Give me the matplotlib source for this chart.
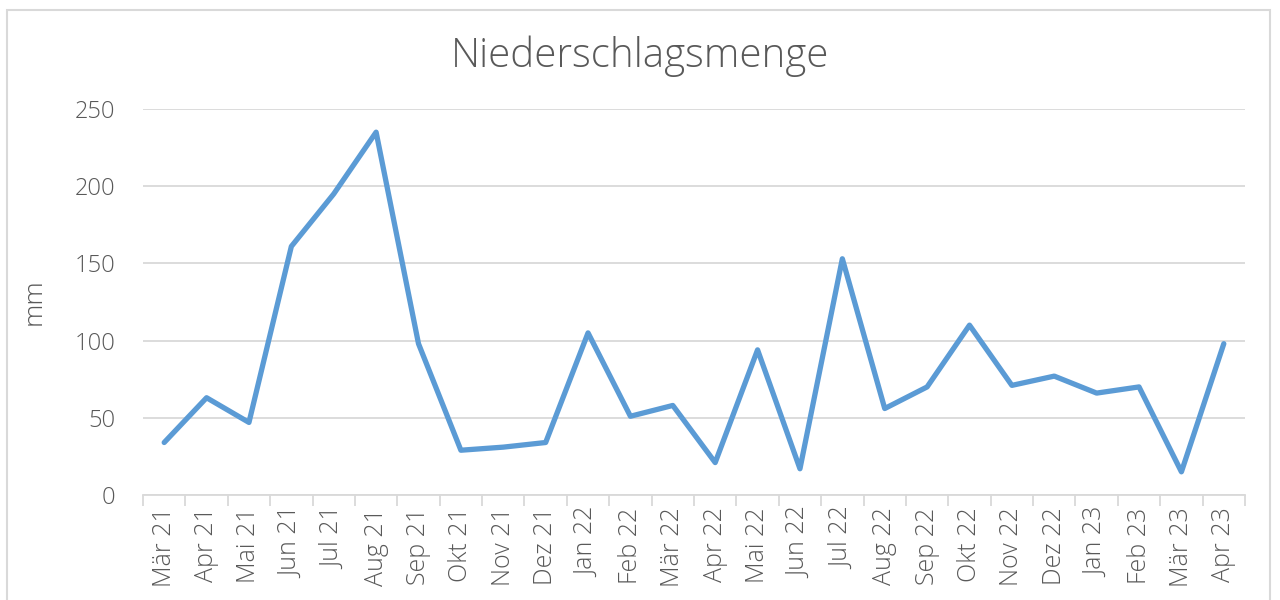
import matplotlib.pyplot as plt
from matplotlib.patches import Rectangle

months = ["Mär 21", "Apr 21", "Mai 21", "Jun 21", "Jul 21", "Aug 21", "Sep 21",
          "Okt 21", "Nov 21", "Dez 21", "Jan 22", "Feb 22", "Mär 22", "Apr 22",
          "Mai 22", "Jun 22", "Jul 22", "Aug 22", "Sep 22", "Okt 22", "Nov 22",
          "Dez 22", "Jan 23", "Feb 23", "Mär 23", "Apr 23"]
niederschlag = [34, 63, 47, 161, 195, 235, 98, 29, 31, 34, 105, 51, 58, 21,
                94, 17, 153, 56, 70, 110, 71, 77, 66, 70, 15, 98]
yticks = [0, 50, 100, 150, 200, 250]

plt.rcParams['font.family'] = ['Open Sans', 'DejaVu Sans']
txt = "#595959"
grid = "#d9d9d9"

fig = plt.figure(figsize=(12.8, 6), dpi=100)
fig.patches.append(Rectangle((7/1280, -0.1), 1263/1280, 1.1 - 10/600,
                             transform=fig.transFigure, fill=False,
                             edgecolor=grid, linewidth=1.5))

ax = fig.add_axes([143/1280, 105/600, 1102/1280, 386/600])
x = list(range(len(months)))
ax.plot(x, niederschlag, color="#5b9bd5", linewidth=3.8, solid_joinstyle="round",
        solid_capstyle="round", zorder=3)

ax.set_xlim(-0.5, len(months) - 0.5)
ax.set_ylim(0, 250)
ax.set_yticks(yticks)
ax.yaxis.grid(True, color=grid, linewidth=1.3)
ax.set_axisbelow(True)
for s in ["top", "right", "left"]:
    ax.spines[s].set_visible(False)
ax.spines["bottom"].set_color(grid)
ax.spines["bottom"].set_linewidth(1.3)

ax.set_xticks(x)
ax.set_xticklabels(months, rotation=90, fontweight="light")
ax.tick_params(axis="x", length=0, pad=9, labelsize=18, labelcolor=txt)
ax.set_xticks([i - 0.5 for i in range(len(months) + 1)], minor=True)
ax.tick_params(axis="x", which="minor", length=8, color=grid, width=1.3)
for lbl in ax.get_yticklabels():
    lbl.set_fontweight("light")
ax.tick_params(axis="y", length=0, pad=20, labelsize=17, labelcolor=txt)

ax.set_ylabel("mm", fontsize=19, color=txt, labelpad=20, fontweight="light")
fig.text(0.5, 1 - 56/600, "Niederschlagsmenge", ha="center", va="center",
         fontsize=29, color=txt, fontweight="light")

fig.savefig("out.png", dpi=100)
